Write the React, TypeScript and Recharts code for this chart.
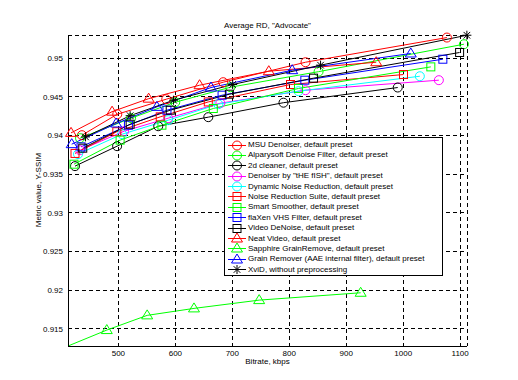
import type { JSX } from "react";
import { CartesianGrid, Line, LineChart, XAxis, YAxis } from "recharts";

const FONT = '"Liberation Sans", Arial, Helvetica, sans-serif';

const xTicks = [500, 600, 700, 800, 900, 1000, 1100];
const yTicks = [0.915, 0.92, 0.925, 0.93, 0.935, 0.94, 0.945, 0.95];

// bitrate (kbps) / Y-SSIM pairs, one pair of arrays per filter
const msuKbps = [436, 498, 584, 684, 828.5, 1076.7];
const msuSsim = [0.94005, 0.94276, 0.9447, 0.9469, 0.94948, 0.95267];

const alparyKbps = [432.6, 522.3, 599.8, 696.6, 851.4, 1106.6];
const alparySsim = [0.93966, 0.94225, 0.94431, 0.94625, 0.94826, 0.95181];

const cleanerKbps = [423.8, 497.7, 569.9, 657.8, 789.8, 990.4];
const cleanerSsim = [0.93605, 0.93863, 0.94121, 0.94238, 0.94425, 0.94621];

const fishKbps = [432.6, 510.0, 587.5, 679.0, 828.5, 1062.6];
const fishSsim = [0.93811, 0.94057, 0.94225, 0.94419, 0.94587, 0.94716];

const dynamicKbps = [429.1, 506.5, 587.5, 675.4, 816.2, 1029.2];
const dynamicSsim = [0.9376, 0.94018, 0.94199, 0.94406, 0.94574, 0.94767];

const nrsKbps = [423.8, 497.2, 573.4, 657.8, 802.1, 1000.5];
const nrsSsim = [0.93769, 0.9405, 0.94242, 0.94435, 0.9466, 0.94789];

const smootherKbps = [422.0, 503.0, 576.4, 666.6, 816.2, 1048.5];
const smootherSsim = [0.9363, 0.93941, 0.94134, 0.9435, 0.94609, 0.94888];

const vhsKbps = [434.4, 517.6, 585.2, 682.0, 827.3, 1069.6];
const vhsSsim = [0.93854, 0.94134, 0.94328, 0.94522, 0.94716, 0.94987];

const videoDenoiseKbps = [437.4, 520.6, 591.0, 694.8, 842.6, 1099.0];
const videoDenoiseSsim = [0.93837, 0.94147, 0.94328, 0.94535, 0.94742, 0.95074];

const neatKbps = [416.8, 488.9, 553.1, 642.5, 764.0, 952.6];
const neatSsim = [0.94035, 0.94309, 0.94477, 0.94651, 0.94832, 0.94948];

const sapphireKbps = [411.5, 479.6, 550.5, 632.7, 747.1, 925.3];
const sapphireSsim = [0.9128, 0.91486, 0.91676, 0.91766, 0.91873, 0.91968];

const grainKbps = [418.0, 496.0, 567.6, 662.6, 805.1, 1013.3];
const grainSsim = [0.93889, 0.94156, 0.94371, 0.94621, 0.94845, 0.95061];

const xvidKbps = [442.3, 520.6, 596.8, 700.6, 854.9, 1111.8];
const xvidSsim = [0.93983, 0.94257, 0.94457, 0.9466, 0.9491, 0.95297];

type MarkerKind = "circle" | "square" | "triangle" | "star";

interface Series {
  readonly name: string;
  readonly color: string;
  readonly marker: MarkerKind;
  readonly kbps: readonly number[];
  readonly ssim: readonly number[];
  readonly skipFirstMarker?: boolean;
}

const series: Series[] = [
  { name: "MSU Denoiser, default preset", color: "#ff0000", marker: "circle", kbps: msuKbps, ssim: msuSsim },
  { name: "Alparysoft Denoise Filter, default preset", color: "#00ff00", marker: "circle", kbps: alparyKbps, ssim: alparySsim },
  { name: "2d cleaner, default preset", color: "#000000", marker: "circle", kbps: cleanerKbps, ssim: cleanerSsim },
  { name: 'Denoiser by "tHE fISH", default preset', color: "#ff00ff", marker: "circle", kbps: fishKbps, ssim: fishSsim },
  { name: "Dynamic Noise Reduction, default preset", color: "#00ffff", marker: "circle", kbps: dynamicKbps, ssim: dynamicSsim },
  { name: "Noise Reduction Suite, default preset", color: "#ff0000", marker: "square", kbps: nrsKbps, ssim: nrsSsim },
  { name: "Smart Smoother, default preset", color: "#00ff00", marker: "square", kbps: smootherKbps, ssim: smootherSsim },
  { name: "flaXen VHS Filter, default preset", color: "#0000ff", marker: "square", kbps: vhsKbps, ssim: vhsSsim },
  { name: "Video DeNoise, default preset", color: "#000000", marker: "square", kbps: videoDenoiseKbps, ssim: videoDenoiseSsim },
  { name: "Neat Video, default preset", color: "#ff0000", marker: "triangle", kbps: neatKbps, ssim: neatSsim },
  { name: "Sapphire GrainRemove, default preset", color: "#00ff00", marker: "triangle", kbps: sapphireKbps, ssim: sapphireSsim, skipFirstMarker: true },
  { name: "Grain Remover (AAE internal filter), default preset", color: "#0000ff", marker: "triangle", kbps: grainKbps, ssim: grainSsim },
  { name: "XviD, without preprocessing", color: "#000000", marker: "star", kbps: xvidKbps, ssim: xvidSsim },
];

function MarkerShape({ kind, x, y, color }: { kind: MarkerKind; x: number; y: number; color: string }): JSX.Element {
  switch (kind) {
    case "circle":
      return <circle cx={x} cy={y} r={4.5} fill="none" stroke={color} strokeWidth={1} />;
    case "square":
      return <rect x={x - 4} y={y - 4} width={8} height={8} fill="none" stroke={color} strokeWidth={1} />;
    case "triangle":
      return (
        <polygon
          points={`${x},${y - 5.5} ${x - 5.5},${y + 3.5} ${x + 5.5},${y + 3.5}`}
          fill="none"
          stroke={color}
          strokeWidth={1}
        />
      );
    default:
      return (
        <path
          d={`M${x - 4.5},${y}H${x + 4.5}M${x},${y - 4.5}V${y + 4.5}M${x - 3.3},${y - 3.3}L${x + 3.3},${y + 3.3}M${x - 3.3},${y + 3.3}L${x + 3.3},${y - 3.3}`}
          stroke={color}
          strokeWidth={1}
        />
      );
  }
}

function makeDot(s: Series) {
  return (props: any): JSX.Element => {
    const { cx, cy, index } = props;
    if (cx == null || cy == null || (s.skipFirstMarker && index === 0)) return <g key={`d${index}`} />;
    return (
      <g key={`d${index}`}>
        <MarkerShape kind={s.marker} x={cx} y={cy} color={s.color} />
      </g>
    );
  };
}

function formatY(v: number): string {
  return String(Number(v.toFixed(3)));
}

function LegendBox(): JSX.Element {
  return (
    <div
      style={{
        position: "absolute",
        left: 224,
        top: 137,
        width: 219,
        height: 139,
        boxSizing: "border-box",
        border: "1px solid #000",
        background: "#fff",
        paddingTop: 1.8,
      }}
    >
      {series.map((s) => (
        <div key={s.name} style={{ display: "flex", alignItems: "center", height: 10.4 }}>
          <svg width={23} height={11} style={{ flex: "none" }}>
            <line x1={3} y1={5.5} x2={21} y2={5.5} stroke={s.color} strokeWidth={1} />
            <MarkerShape kind={s.marker} x={12} y={5.5} color={s.color} />
          </svg>
          <span style={{ fontSize: 8, whiteSpace: "nowrap", lineHeight: "10px" }}>{s.name}</span>
        </div>
      ))}
    </div>
  );
}

export default function App(): JSX.Element {
  const tick = { fontSize: 8, fill: "#000", fontFamily: FONT };
  return (
    <div style={{ position: "absolute", left: 0, top: 0, width: 518, height: 380, background: "#fff", fontFamily: FONT, color: "#000" }}>
      <LineChart width={518} height={380} margin={{ top: 35, right: 51, bottom: 0, left: 0 }}>
        <CartesianGrid stroke="#000" strokeDasharray="4 3" strokeWidth={1} shapeRendering="crispEdges" />
        <XAxis
          dataKey="x"
          type="number"
          domain={[411.5, 1112]}
          ticks={xTicks}
          height={34}
          tick={tick}
          tickSize={0}
          tickMargin={4}
          axisLine={{ stroke: "#000", shapeRendering: "crispEdges" }}
        />
        <YAxis
          type="number"
          domain={[0.9128, 0.953]}
          ticks={yTicks}
          width={68}
          tick={tick}
          tickSize={0}
          tickMargin={5}
          tickFormatter={formatY}
          axisLine={{ stroke: "#000", shapeRendering: "crispEdges" }}
        />
        {series.map((s) => (
          <Line
            key={s.name}
            name={s.name}
            data={s.kbps.map((x, i) => ({ x, y: s.ssim[i] }))}
            dataKey="y"
            type="linear"
            stroke={s.color}
            strokeWidth={1}
            dot={makeDot(s)}
            activeDot={false}
            legendType="none"
            isAnimationActive={false}
          />
        ))}
      </LineChart>
      <div style={{ position: "absolute", left: 68, width: 399, top: 21, textAlign: "center", fontSize: 8, lineHeight: "10px" }}>
        Average RD, "Advocate"
      </div>
      <div style={{ position: "absolute", left: 68, width: 399, top: 357, textAlign: "center", fontSize: 8, lineHeight: "10px" }}>
        Bitrate, kbps
      </div>
      <div
        style={{
          position: "absolute",
          left: 39,
          top: 190,
          transform: "translate(-50%, -50%) rotate(-90deg)",
          whiteSpace: "nowrap",
          fontSize: 8,
          lineHeight: "10px",
        }}
      >
        Metric value, Y-SSIM
      </div>
      <LegendBox />
    </div>
  );
}
